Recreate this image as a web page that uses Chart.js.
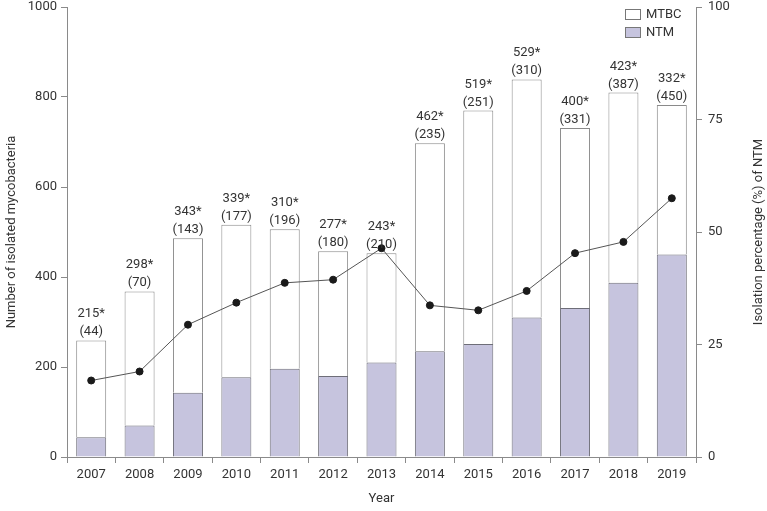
<!DOCTYPE html>
<html lang="en">
<head>
    <meta charset="UTF-8">
    <title>Isolated mycobacteria 2007-2019</title>
    <style>
        body {
            margin: 0;
            padding: 0;
            background: #fff;
        }
        .chart-box {
            width: 767px;
            height: 511px;
        }
    </style>
</head>
<body>

<div class="chart-box">
  <canvas id="chart"></canvas>
</div>

<script src="https://cdn.jsdelivr.net/npm/chart.js"></script>

<script>
    const years = ['2007', '2008', '2009', '2010', '2011', '2012', '2013', '2014', '2015', '2016', '2017', '2018', '2019'];
    const ntm = [44, 70, 143, 177, 196, 180, 210, 235, 251, 310, 331, 387, 450];
    const mtbc = [215, 298, 343, 339, 310, 277, 243, 462, 519, 529, 400, 423, 332];
    const ntmPercent = [17, 19, 29.4, 34.3, 38.7, 39.4, 46.4, 33.7, 32.6, 36.9, 45.3, 47.8, 57.5];
    const leftTicks = [0, 200, 400, 600, 800, 1000];
    const rightTicks = [0, 25, 50, 75, 100];

    const FONT = 'Roboto, sans-serif';
    const TEXT = '#333';
    const AXIS = '#8a8a8a';

    // numbers above each bar: MTBC with star, NTM in brackets
    const barLabels = {
        id: 'barLabels',
        afterDatasetsDraw(chart) {
            const ctx = chart.ctx;
            const meta = chart.getDatasetMeta(1);
            ctx.save();
            ctx.font = '13px ' + FONT;
            ctx.fillStyle = TEXT;
            ctx.textAlign = 'center';
            ctx.textBaseline = 'alphabetic';
            meta.data.forEach((bar, i) => {
                ctx.fillText(mtbc[i] + '*', bar.x, bar.y - 23);
                ctx.fillText('(' + ntm[i] + ')', bar.x, bar.y - 5);
            });
            ctx.restore();
        }
    };

    // legend boxes top right + right axis title reading upwards
    const extras = {
        id: 'extras',
        afterDraw(chart) {
            const ctx = chart.ctx;
            const items = [
                { text: 'MTBC', fill: '#ffffff' },
                { text: 'NTM', fill: '#c6c4de' }
            ];
            ctx.save();
            ctx.font = '13px ' + FONT;
            ctx.textBaseline = 'middle';
            items.forEach((it, i) => {
                const y = 9 + i * 18;
                ctx.fillStyle = it.fill;
                ctx.fillRect(625, y, 15, 10);
                ctx.strokeStyle = '#777';
                ctx.lineWidth = 1;
                ctx.strokeRect(625.5, y + 0.5, 15, 10);
                ctx.fillStyle = TEXT;
                ctx.fillText(it.text, 646, y + 6);
            });

            const area = chart.chartArea;
            ctx.translate(759, (area.top + area.bottom) / 2);
            ctx.rotate(-Math.PI / 2);
            ctx.textAlign = 'center';
            ctx.fillText('Isolation percentage (%) of NTM', 0, 0);
            ctx.restore();
        }
    };

    const ctx = document.getElementById('chart').getContext('2d');
    const chart = new Chart(ctx, {
        type: 'bar',
        data: {
            labels: years,
            datasets: [
                {
                    label: 'NTM',
                    data: ntm,
                    backgroundColor: '#c6c4de',
                    borderColor: '#6e6e78',
                    borderWidth: 1,
                    yAxisID: 'y',
                    stack: 'a',
                    order: 1,
                    barPercentage: 0.62,
                    categoryPercentage: 1
                },
                {
                    label: 'MTBC',
                    data: mtbc,
                    backgroundColor: '#ffffff',
                    borderColor: '#8a8a8a',
                    borderWidth: 1,
                    yAxisID: 'y',
                    stack: 'a',
                    order: 1,
                    barPercentage: 0.62,
                    categoryPercentage: 1
                },
                {
                    type: 'line',
                    label: 'Isolation percentage',
                    data: ntmPercent,
                    yAxisID: 'y1',
                    borderColor: '#555',
                    borderWidth: 1,
                    pointRadius: 3.5,
                    pointBackgroundColor: '#1a1a1a',
                    pointBorderColor: '#1a1a1a',
                    order: 0
                }
            ]
        },
        options: {
            responsive: true,
            maintainAspectRatio: false,
            animation: false,
            layout: { padding: { top: 7, right: 0, left: 0, bottom: 0 } },
            plugins: {
                legend: { display: false },
                tooltip: { enabled: false }
            },
            scales: {
                x: {
                    stacked: true,
                    grid: { drawOnChartArea: false, color: AXIS, tickLength: 6 },
                    border: { color: AXIS },
                    ticks: { color: TEXT, font: { family: FONT, size: 13 }, padding: 4 },
                    title: { display: true, text: 'Year', color: TEXT, font: { family: FONT, size: 13 }, padding: { top: 8 } },
                    afterFit(s) { s.height = 54; s.paddingLeft = 0; s.paddingRight = 0; }
                },
                y: {
                    stacked: true,
                    position: 'left',
                    min: 0,
                    max: 1000,
                    afterBuildTicks(s) { s.ticks = leftTicks.map(v => ({ value: v })); },
                    grid: { drawOnChartArea: false, color: AXIS, tickLength: 6 },
                    border: { color: AXIS },
                    ticks: { color: TEXT, font: { family: FONT, size: 13 }, padding: 4, callback: v => String(v) },
                    title: { display: true, text: 'Number of isolated mycobacteria', color: TEXT, font: { family: FONT, size: 13 }, padding: { bottom: 2 } },
                    afterFit(s) { s.width = 67; s.paddingTop = 0; s.paddingBottom = 0; }
                },
                y1: {
                    stacked: false,
                    position: 'right',
                    min: 0,
                    max: 100,
                    afterBuildTicks(s) { s.ticks = rightTicks.map(v => ({ value: v })); },
                    grid: { drawOnChartArea: false, color: AXIS, tickLength: 6 },
                    border: { color: AXIS },
                    ticks: { color: TEXT, font: { family: FONT, size: 13 }, padding: 6, callback: v => String(v) },
                    afterFit(s) { s.width = 71; s.paddingTop = 0; s.paddingBottom = 0; }
                }
            }
        },
        plugins: [barLabels, extras]
    });
</script>

</body>
</html>
